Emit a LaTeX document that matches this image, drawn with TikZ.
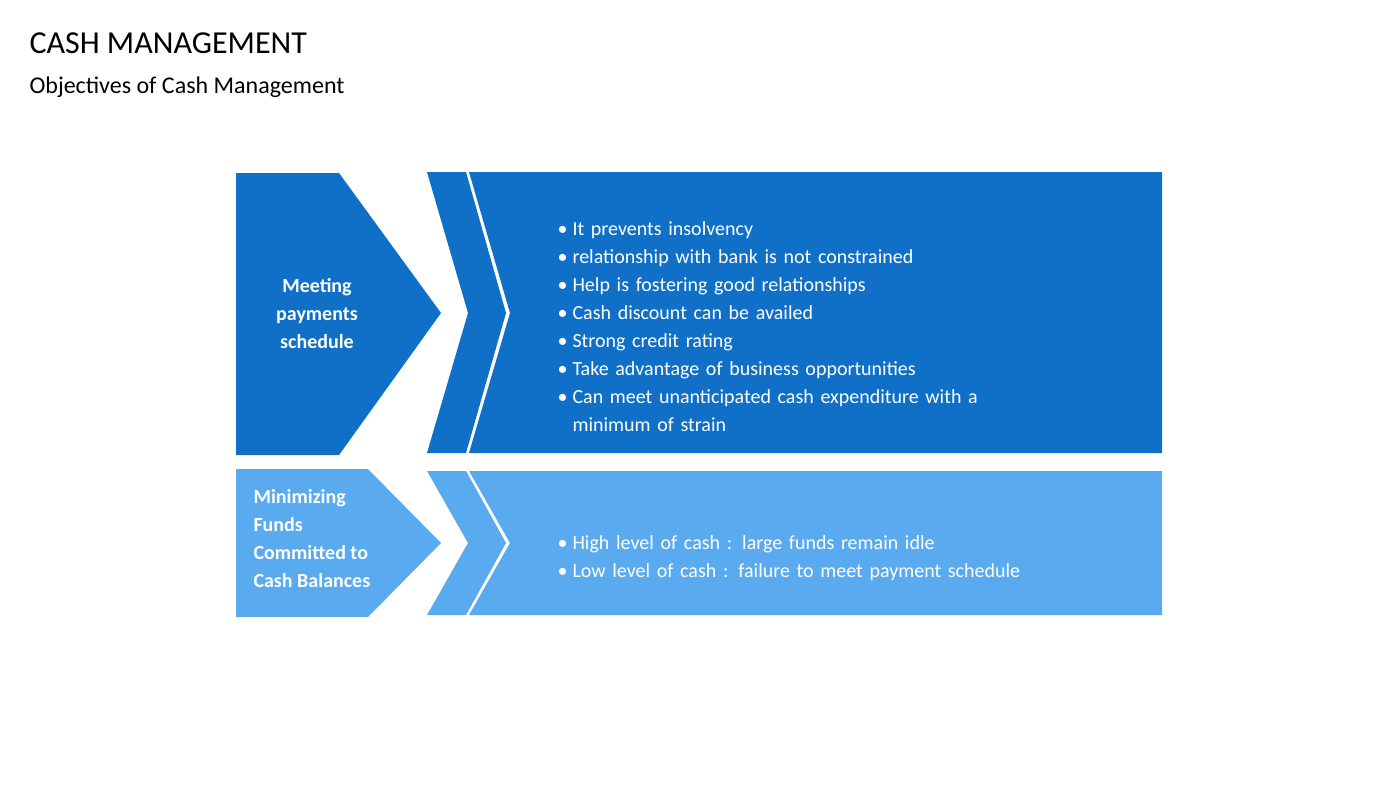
\documentclass[tikz,border=0pt]{standalone}
\usepackage{fontspec}
\setmainfont{Carlito}
\definecolor{dk}{HTML}{1070C8}
\definecolor{lt}{HTML}{5AAAF0}
\begin{document}
\begin{tikzpicture}[x=1pt,y=-1pt,
  lbl/.style={text=white,font=\fontsize{20}{28}\selectfont\bfseries,align=left},
  blt/.style={text=white,font=\fontsize{20}{28}\selectfont,align=left,text width=480pt,anchor=north west}]
\useasboundingbox (0,0) rectangle (1400,788);
\node[anchor=west,font=\fontsize{32}{36}\selectfont] (t) at (26,43) {CASH MANAGEMENT};
\node[anchor=west,font=\fontsize{24}{28}\selectfont] (s) at (26,87) {Objectives of Cash Management};
% top row
\fill[dk] (236,173) -- (339,173) -- (441,313) -- (339,455) -- (236,455) -- cycle;
\fill[dk] (427,172) -- (466,172) -- (506,313) -- (466,453) -- (427,453) -- (468,313) -- cycle;
\fill[dk] (469,172) -- (1162,172) -- (1162,453) -- (469,453) -- (510,313) -- cycle;
\node[lbl,align=center] (a) at (317,314) {Meeting\\payments\\schedule};
\node[blt] (b) at (544,196) {\begin{itemize}\setlength\itemsep{0pt}\setlength\parskip{0pt}\setlength\leftmargin{36pt}
\item It prevents insolvency
\item relationship with bank is not constrained
\item Help is fostering good relationships
\item Cash discount can be availed
\item Strong credit rating
\item Take advantage of business opportunities
\item Can meet unanticipated cash expenditure with a minimum of strain
\end{itemize}};
% bottom row
\fill[lt] (236,469) -- (368,469) -- (441,543) -- (368,617) -- (236,617) -- cycle;
\fill[lt] (427,471) -- (466,471) -- (506,543) -- (466,615) -- (427,615) -- (468,543) -- cycle;
\fill[lt] (469,471) -- (1162,471) -- (1162,615) -- (469,615) -- (510,543) -- cycle;
\node[lbl,anchor=west] (c) at (250,539) {Minimizing\\Funds\\Committed to\\Cash Balances};
\node[blt,text width=560pt] (d) at (544,510) {\begin{itemize}\setlength\itemsep{0pt}\setlength\parskip{0pt}
\item High level of cash : large funds remain idle
\item Low level of cash : failure to meet payment schedule
\end{itemize}};
\end{tikzpicture}
\end{document}
